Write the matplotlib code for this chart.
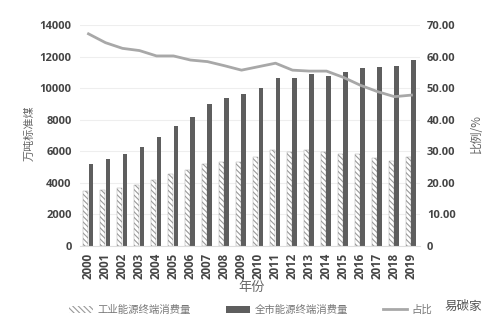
import matplotlib
matplotlib.use("Agg")
import matplotlib.pyplot as plt
import numpy as np
from matplotlib.lines import Line2D
from matplotlib.patches import Patch

plt.rcParams['font.family'] = ['Open Sans', 'Noto Sans CJK SC', 'DejaVu Sans']
plt.rcParams['hatch.color'] = '#6a6a6a'
plt.rcParams['hatch.linewidth'] = 0.8

years = [str(y) for y in range(2000, 2020)]
industrial = [3500, 3550, 3650, 3850, 4150, 4550, 4800, 5200, 5350, 5300,
              5650, 6100, 5970, 6050, 5970, 5830, 5830, 5570, 5400, 5620]
total = [5200, 5500, 5800, 6300, 6900, 7600, 8200, 9000, 9400, 9650,
         10000, 10650, 10650, 10900, 10750, 11000, 11300, 11350, 11400, 11800]
share = [67.2, 64.4, 62.6, 61.9, 60.2, 60.2, 58.9, 58.4, 57.1, 55.7,
         56.8, 57.9, 55.7, 55.4, 55.4, 53.4, 50.9, 48.9, 47.3, 47.8]
left_ticks = [0, 2000, 4000, 6000, 8000, 10000, 12000, 14000]
right_ticks = [0, 10, 20, 30, 40, 50, 60, 70]
right_labels = ['0', '10.00', '20.00', '30.00', '40.00', '50.00', '60.00', '70.00']

fig = plt.figure(figsize=(4.96, 3.30), dpi=100)
ax = fig.add_axes([80/496, 1-246/330, 340/496, 221/330])
x = np.arange(len(years))

ax.bar(x - 0.18, industrial, width=0.3, color='white', edgecolor='#9a9a9a',
       hatch='\\\\\\\\\\\\', linewidth=0.3, zorder=2)
ax.bar(x + 0.13, total, width=0.26, color='#5e5e5e', linewidth=0, zorder=2)
ax.set_xlim(-0.5, len(years) - 0.5)
ax.set_ylim(0, 14000)
ax.set_yticks(left_ticks)
ax.set_yticklabels([str(t) for t in left_ticks])
ax.set_xticks(x)
ax.set_xticklabels(years, rotation=90)
ax.grid(axis='y', color='#eeeeee', linewidth=0.8, zorder=0)
ax.set_axisbelow(True)
for s in ['top', 'right', 'left']:
    ax.spines[s].set_visible(False)
ax.spines['bottom'].set_color('#dddddd')
ax.tick_params(axis='y', length=0, labelsize=8, colors='#444444', pad=6)
ax.tick_params(axis='x', length=0, labelsize=8.3, colors='#444444', pad=5)
for lab in ax.get_xticklabels() + ax.get_yticklabels():
    lab.set_fontweight('bold')

ax2 = ax.twinx()
ax2.plot(x, share, color='#a8a8a8', linewidth=2.0, zorder=3)
ax2.set_ylim(0, 70)
ax2.set_yticks(right_ticks)
ax2.set_yticklabels(right_labels)
for s in ['top', 'right', 'left', 'bottom']:
    ax2.spines[s].set_visible(False)
ax2.tick_params(axis='y', length=0, labelsize=8, colors='#444444', pad=5)
for lab in ax2.get_yticklabels():
    lab.set_fontweight('bold')

cjk = ['Noto Sans CJK SC', 'DejaVu Sans']
fig.text(30/496, 1-133/330, '万吨标准煤', rotation=90, ha='center', va='center',
         fontsize=8, color='#666666', family=cjk)
fig.text(476/496, 1-134/330, '比例/%', rotation=90, ha='center', va='center',
         fontsize=8.5, color='#666666', family=cjk)
fig.text(252/496, 1-287/330, '年份', ha='center', va='center',
         fontsize=9.5, color='#666666', family=cjk)

handles = [Patch(facecolor='white', edgecolor='#9a9a9a', hatch='\\\\\\\\\\\\', linewidth=0),
           Patch(facecolor='#5e5e5e'),
           Line2D([0], [0], color='#a8a8a8', linewidth=2.0)]
labels = ['工业能源终端消费量', '全市能源终端消费量', '占比']
leg = fig.legend(handles, labels, loc='center left', bbox_to_anchor=(60/496, 1-310/330),
                 ncol=3, frameon=False, prop={'family': cjk, 'size': 7.5},
                 handlelength=2.3, columnspacing=3.4, handletextpad=0.4)
for t in leg.get_texts():
    t.set_color('#777777')

fig.text(463/496, 1-306/330, '易碳家', ha='center', va='center', fontsize=9,
         color='#555555', family=cjk)

fig.savefig('out.png', dpi=100)
